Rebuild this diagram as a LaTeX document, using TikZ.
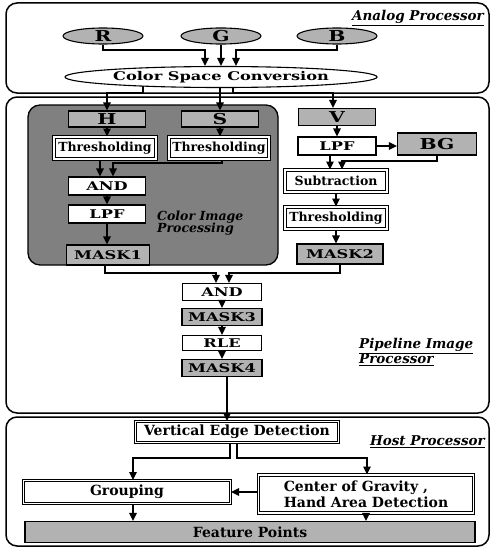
\documentclass[tikz,border=0pt]{standalone}
\usepackage{fontspec}
\setmainfont{DejaVu Serif}
\newfontfamily\widebf[FakeStretch=1.35]{DejaVu Serif}
\usetikzlibrary{arrows.meta,calc,positioning,shapes.geometric}
\definecolor{Dots}{gray}{0.7}
\definecolor{Mesh}{gray}{0.5}
\newcommand\boxfont{\fontsize{12.5}{13}\selectfont\bfseries}
\newcommand\hostfont{\fontsize{14}{16}\selectfont\bfseries}
\newcommand\bigfont{\fontsize{15}{16}\selectfont\widebf\bfseries}
\newcommand\maskfont{\fontsize{12}{13}\selectfont\widebf\bfseries}
\newcommand\tagfont{\fontsize{13.5}{13.5}\selectfont\bfseries\itshape}

\begin{document}
\begin{tikzpicture}[x=1pt,y=-1pt,panel/.style={draw, line width=1.5pt, rounded corners=11pt},plainbox/.style={draw, fill=white, line width=1.1pt, inner sep=0pt, font=\maskfont},dblbox/.style={draw, double, double distance=1.3pt, line width=1pt, fill=white, inner sep=0pt, font=\boxfont},maskbox/.style={draw, fill=Dots, line width=1.1pt, inner sep=0pt, font=\maskfont},chan/.style={ellipse, draw, fill=Dots, line width=1.1pt, inner sep=0pt, minimum width=80pt, minimum height=16pt, font=\bigfont},flow/.style={-{Triangle[length=8pt,width=7.5pt]}, line width=1.3pt},tag/.style={font=\tagfont, align=left, inner sep=0pt}]
\useasboundingbox (0,0) rectangle (491,551);
\draw[panel] (6,3) rectangle (489,93);
\draw[panel] (6,97) rectangle (489,413);
\draw[panel] (6,417) rectangle (489,546);
\filldraw[fill=Mesh, line width=1.3pt, rounded corners=12pt] (28,105) rectangle (278,265);
\node[tag, anchor=east] (analog) at (484,18) {\underline{Analog Processor}};
\node[tag, anchor=west] (pipe) at (359,352) {\underline{Pipeline Image}\\[-1pt]\underline{Processor}};
\node[tag, anchor=east] (host) at (485,442) {\underline{Host Processor}};
\node[tag, font=\fontsize{12.5}{12.5}\selectfont\bfseries\itshape, anchor=west] (cip) at (157,223) {Color Image\\[-1pt]Processing};
\node[chan] (R) at (103,36) {R};
\node[chan] (G) at (221,36) {G};
\node[chan] (B) at (337,36) {B};
\node[ellipse, draw, line width=1.1pt, inner sep=0pt, minimum width=312pt, minimum height=21pt, font=\maskfont] (csc) at (221,77) {Color Space Conversion};
\node[maskbox, font=\bigfont, minimum width=77pt, minimum height=16pt] (H) at (107,119) {H};
\node[maskbox, font=\bigfont, minimum width=77pt, minimum height=16pt] (S) at (220,119) {S};
\node[maskbox, font=\bigfont, minimum width=77pt, minimum height=17pt] (V) at (337,117) {V};
\node[dblbox, minimum width=102pt, minimum height=22pt] (thH) at (105,148) {Thresholding};
\node[dblbox, minimum width=100pt, minimum height=22pt] (thS) at (219,148) {Thresholding};
\node[plainbox, minimum width=77pt, minimum height=18pt] (and1) at (107,186) {AND};
\node[plainbox, minimum width=77pt, minimum height=18pt] (lpf1) at (107,214) {LPF};
\node[maskbox, minimum width=83pt, minimum height=20pt] (mask1) at (108,255) {MASK1};
\node[plainbox, minimum width=78pt, minimum height=18pt] (lpf2) at (337,146) {LPF};
\node[maskbox, font=\bigfont, minimum width=79pt, minimum height=22pt] (bg) at (437,144) {BG};
\node[dblbox, minimum width=102pt, minimum height=22pt] (sub) at (336,181) {Subtraction};
\node[dblbox, minimum width=102pt, minimum height=22pt] (thV) at (336,218) {Thresholding};
\node[maskbox, minimum width=86pt, minimum height=20pt] (mask2) at (340,254) {MASK2};
\node[plainbox, minimum width=79pt, minimum height=17pt] (and2) at (222,292) {AND};
\node[maskbox, minimum width=80pt, minimum height=17pt] (mask3) at (222,317) {MASK3};
\node[plainbox, minimum width=79pt, minimum height=15pt] (rle) at (222,343) {RLE};
\node[maskbox, minimum width=80pt, minimum height=17pt] (mask4) at (222,368) {MASK4};
\node[dblbox, font=\hostfont, minimum width=203pt, minimum height=21pt] (ved) at (237,432) {Vertical Edge Detection};
\node[dblbox, font=\hostfont, minimum width=207pt, minimum height=23pt] (grp) at (127,492) {Grouping};
\node[dblbox, font=\hostfont, minimum width=215pt, minimum height=38pt, align=left] (cog) at (366,494) {Center of Gravity ,\\Hand Area Detection};
\node[maskbox, font=\hostfont, minimum width=450pt, minimum height=21pt] (fp) at (250,532) {Feature Points};
\coordinate (rj) at (205,50);
\coordinate (bj) at (236,50);
\coordinate (hj) at (107,93);
\coordinate (vj) at (333,93);
\coordinate (sj) at (113,163);
\coordinate (bgj) at (342,161);
\coordinate (m1j) at (216,273);
\coordinate (m2j) at (229,273);
\coordinate (gj) at (133,458);
\coordinate (cj) at (367,458);
\draw[flow] (R.south) |- (rj) -- (rj |- csc.north);
\draw[flow] (G.south) -- (csc.north);
\draw[flow] (B.south) |- (bj) -- (bj |- csc.north);
\draw[flow] ([xshift=-78pt,yshift=2pt]csc.south) |- (hj) -- (hj |- H.north);
\draw[flow] (S.north |- csc.south) -- (S.north);
\draw[flow] ([xshift=12pt,yshift=1pt]csc.south) |- (vj) -- (vj |- V.north);
\draw[flow] (H.south) -- (H.south |- thH.north);
\draw[flow] (S.south) -- (S.south |- thS.north);
\draw[flow] ([xshift=-5pt]thH.south) -- ([xshift=-7pt]and1.north);
\draw[flow] ([xshift=3pt]thS.south) |- (sj) -- (sj |- and1.north);
\draw[flow] (and1) -- (lpf1);
\draw[flow] (lpf1.south) -- (lpf1.south |- mask1.north);
\draw[flow] (V.south) -- (V.south |- lpf2.north);
\draw[flow] (lpf2.east) -- (lpf2.east -| bg.west);
\draw[flow] ([xshift=-7pt]lpf2.south) -- ([xshift=-7pt]lpf2.south |- sub.north);
\draw[flow] (bg.south) |- (bgj) -- (bgj |- sub.north);
\draw[flow] (sub) -- (thV);
\draw[flow] (thV.south) -- (thV.south |- mask2.north);
\draw[flow] ([xshift=-3pt]mask1.south) |- (m1j) -- (m1j |- and2.north);
\draw[flow] (mask2.south) |- (m2j) -- (m2j |- and2.north);
\draw[flow] (and2) -- (mask3);
\draw[flow] (mask3) -- (rle);
\draw[flow] (rle) -- (mask4);
\draw[flow] ([xshift=5pt]mask4.south) -- ([xshift=5pt]mask4.south |- ved.north);
\draw[flow] ([xshift=-7pt]ved.south) |- (gj) -- (gj |- grp.north);
\draw[flow] (ved.south) |- (cj) -- (cj |- cog.north);
\draw[flow] (cog.west |- grp.east) -- (grp.east);
\draw[flow] ([xshift=6pt]grp.south) -- ([xshift=6pt]grp.south |- fp.north);
\draw[flow] (cog.south) -- (cog.south |- fp.north);
\end{tikzpicture}
\end{document}
